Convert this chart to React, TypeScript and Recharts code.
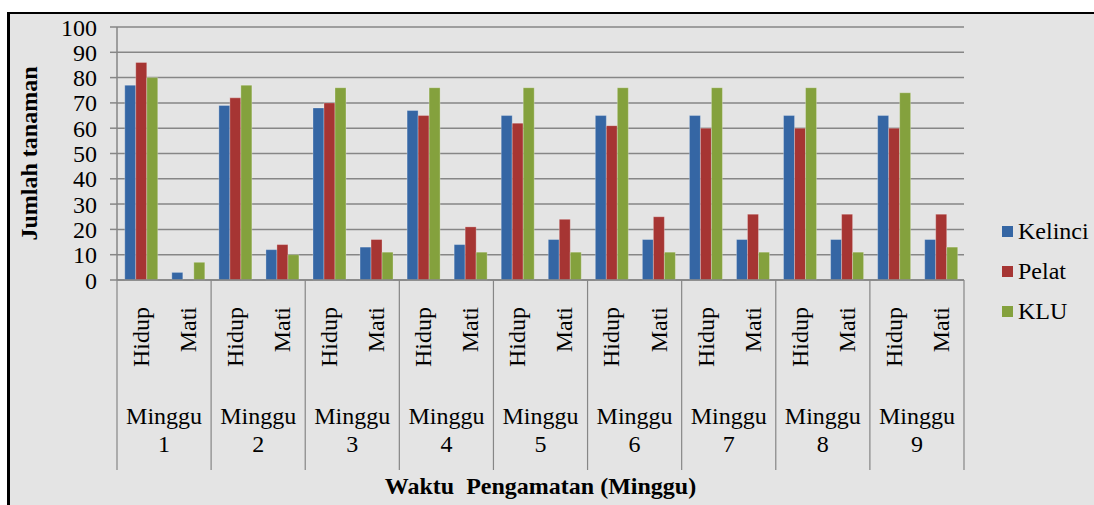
import React from "react"
import { BarChart, Bar, XAxis, YAxis, CartesianGrid, Label } from "recharts"

const weeks = ["1", "2", "3", "4", "5", "6", "7", "8", "9"]
const statuses = ["Hidup", "Mati"]

const kelinciHidup = [77, 69, 68, 67, 65, 65, 65, 65, 65]
const kelinciMati = [3, 12, 13, 14, 16, 16, 16, 16, 16]
const pelatHidup = [86, 72, 70, 65, 62, 61, 60, 60, 60]
const pelatMati = [0, 14, 16, 21, 24, 25, 26, 26, 26]
const kluHidup = [80, 77, 76, 76, 76, 76, 76, 76, 74]
const kluMati = [7, 10, 11, 11, 11, 11, 11, 11, 13]

const yTicks = [0, 10, 20, 30, 40, 50, 60, 70, 80, 90, 100]

const series = [
  { key: "Kelinci", color: "#3566a4" },
  { key: "Pelat", color: "#a63533" },
  { key: "KLU", color: "#84a13d" },
]

// one row per (week, status)
const data = weeks.flatMap((w, i) => [
  { week: w, status: statuses[0], Kelinci: kelinciHidup[i], Pelat: pelatHidup[i], KLU: kluHidup[i] },
  { week: w, status: statuses[1], Kelinci: kelinciMati[i], Pelat: pelatMati[i], KLU: kluMati[i] },
])

const W = 1094
const H = 505
const LEFT = 117
const RIGHT = 130
const FONT = '"Liberation Serif", "Times New Roman", serif'
const FS = 24
const GRID = "#868686"
const bandW = (W - LEFT - RIGHT) / weeks.length

function StatusTick(props: any) {
  const { x, y, payload } = props
  return (
    <text
      transform={`translate(${x},${y + 19}) rotate(-90)`}
      dy="0.35em"
      textAnchor="end"
      fontSize={FS}
      fontFamily={FONT}
      fill="#000"
    >
      {payload.value}
    </text>
  )
}

function WeekTick(props: any) {
  const { x, y, payload, index } = props
  const last = index === weeks.length - 1
  return (
    <g>
      <line x1={x - bandW / 2} x2={x - bandW / 2} y1={y - 110} y2={y + 80} stroke={GRID} strokeWidth={1.2} />
      {last && <line x1={x + bandW / 2} x2={x + bandW / 2} y1={y - 110} y2={y + 80} stroke={GRID} strokeWidth={1.2} />}
      <text x={x} y={y + 34} textAnchor="middle" fontSize={FS} fontFamily={FONT} fill="#000">
        Minggu
      </text>
      <text x={x} y={y + 62} textAnchor="middle" fontSize={FS} fontFamily={FONT} fill="#000">
        {payload.value}
      </text>
    </g>
  )
}

export default function App() {
  return (
    <div style={{ position: "absolute", left: 0, top: 0, width: W, height: H, background: "#fff" }}>
      <div
        style={{
          position: "absolute",
          left: 7,
          top: 12,
          width: W - 7,
          height: H - 12,
          boxSizing: "border-box",
          borderTop: "2px solid #000",
          borderLeft: "3px solid #000",
          background: "#e4e4e4",
        }}
      />
      <div style={{ position: "absolute", left: 0, top: 0 }}>
        <BarChart
          width={W}
          height={H}
          data={data}
          margin={{ top: 27, right: RIGHT, left: 0, bottom: 0 }}
          barCategoryGap="16.5%"
          barGap={0}
        >
          <CartesianGrid vertical={false} stroke={GRID} strokeWidth={1.5} />
          <YAxis
            width={LEFT}
            domain={[0, 100]}
            ticks={yTicks}
            interval={0}
            axisLine={{ stroke: GRID, strokeWidth: 1.5 }}
            tickLine={{ stroke: GRID, strokeWidth: 1.5 }}
            tickSize={7}
            tickMargin={13}
            tick={{ fontSize: FS, fontFamily: FONT, fill: "#000" }}
          >
            <Label
              content={(p: any) => {
                const vb = p.viewBox
                const cx = vb.x + 29
                const cy = vb.y + vb.height / 2
                return (
                  <text
                    transform={`translate(${cx},${cy}) rotate(-90)`}
                    dy="0.35em"
                    textAnchor="middle"
                    fontSize={FS}
                    fontWeight="bold"
                    fontFamily={FONT}
                    fill="#000"
                  >
                    Jumlah tanaman
                  </text>
                )
              }}
            />
          </YAxis>
          <XAxis
            dataKey="status"
            height={110}
            interval={0}
            tickLine={false}
            axisLine={{ stroke: GRID, strokeWidth: 1.5 }}
            tick={<StatusTick />}
          />
          <XAxis
            xAxisId="week"
            dataKey="week"
            allowDuplicatedCategory={false}
            height={115}
            interval={0}
            tickLine={false}
            axisLine={false}
            tickSize={0}
            tickMargin={0}
            tick={<WeekTick />}
          >
            <Label
              content={(p: any) => {
                const vb = p.viewBox
                return (
                  <text
                    x={vb.x + vb.width / 2}
                    y={vb.y + vb.height - 11}
                    textAnchor="middle"
                    fontSize={FS}
                    fontWeight="bold"
                    fontFamily={FONT}
                    fill="#000"
                    style={{ whiteSpace: "pre" }}
                  >
                    {"Waktu  Pengamatan (Minggu)"}
                  </text>
                )
              }}
            />
          </XAxis>
          {series.map((s) => (
            <Bar
              key={s.key}
              dataKey={s.key}
              fill={s.color}
              stroke="rgba(255,255,255,0.35)"
              strokeWidth={0.8}
              isAnimationActive={false}
            />
          ))}
        </BarChart>
      </div>
      <div style={{ position: "absolute", left: 1002, top: 211, fontFamily: FONT, fontSize: FS, color: "#000" }}>
        {series.map((s) => (
          <div key={s.key} style={{ display: "flex", alignItems: "center", height: 40 }}>
            <span style={{ display: "inline-block", width: 11, height: 11, background: s.color, marginRight: 5 }} />
            <span>{s.key}</span>
          </div>
        ))}
      </div>
    </div>
  )
}
